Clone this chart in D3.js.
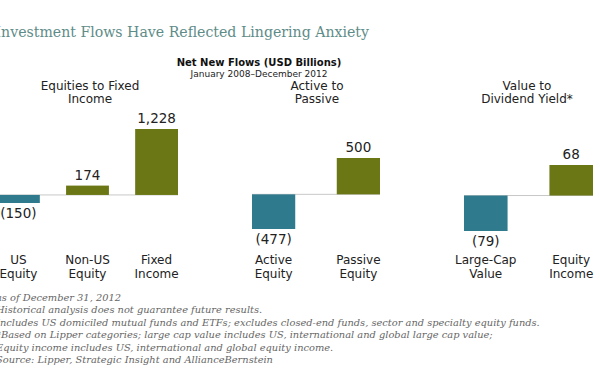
<!DOCTYPE html>
<html>
<head>
<meta charset="utf-8">
<script src="https://cdn.jsdelivr.net/npm/d3@7"></script>
<style>
  body { margin: 0; background: #fff; }
  svg { display: block; }
</style>
</head>
<body>
<svg id="chart" width="600" height="390"></svg>
<script>
// data (USD billions)
var panelTitles = [["Equities to Fixed", "Income"], ["Active to", "Passive"], ["Value to", "Dividend Yield*"]];
var eqCategories = [["US", "Equity"], ["Non-US", "Equity"], ["Fixed", "Income"]];
var eqValues = [-150, 174, 1228];
var apCategories = [["Active", "Equity"], ["Passive", "Equity"]];
var apValues = [-477, 500];
var dyCategories = [["Large-Cap", "Value"], ["Equity", "Income"]];
var dyValues = [-79, 68];
var footnotes = [
    "as of December 31, 2012",
    "Historical analysis does not guarantee future results.",
    "Includes US domiciled mutual funds and ETFs; excludes closed-end funds, sector and specialty equity funds.",
    "*Based on Lipper categories; large cap value includes US, international and global large cap value;",
    "Equity income includes US, international and global equity income.",
    "Source: Lipper, Strategic Insight and AllianceBernstein"
];

var teal = "#2f7b8d";
var olive = "#6b7614";
var sans = "'DejaVu Sans', Verdana, sans-serif";
var serif = "'DejaVu Serif', Georgia, serif";

var svg = d3.select("#chart");

/* main title, clipped on the left like the source image */
var title = svg.append("text")
    .attr("x", 369).attr("y", 37)
    .attr("text-anchor", "end")
    .style("font-family", serif)
    .style("font-size", "17px")
    .attr("fill", "#5e8c88")
    .text("Investment Flows Have Reflected Lingering Anxiety");
// fit so the part after the cut "I" spans ~368px
var full = title.node().getComputedTextLength();
var probe = svg.append("text").style("font-family", serif).style("font-size", "17px").text("I");
var iw = probe.node().getComputedTextLength();
probe.remove();
title.style("font-size", (17 * 368 / (full - iw)).toFixed(2) + "px");

svg.append("text")
    .attr("x", 259).attr("y", 66)
    .attr("text-anchor", "middle")
    .style("font-family", sans)
    .style("font-weight", "bold")
    .style("font-size", "10px")
    .attr("fill", "#111")
    .text("Net New Flows (USD Billions)");
svg.append("text")
    .attr("x", 259).attr("y", 77)
    .attr("text-anchor", "middle")
    .style("font-family", sans)
    .style("font-size", "9px")
    .attr("fill", "#222")
    .text("January 2008\u2013December 2012");

// one little bar chart per panel, each with its own scale
var panels = [
    {cats: eqCategories, vals: eqValues, xr: [-3, 178], pad: 0.38, yr: [203, 129], tx: 90},
    {cats: apCategories, vals: apValues, xr: [252, 380], pad: 0.49, yr: [229, 158], tx: 317},
    {cats: dyCategories, vals: dyValues, xr: [464, 593], pad: 0.49, yr: [231, 165], tx: 527}
];

function fmt(v) {
    var s = d3.format(",")(Math.abs(v));
    return v < 0 ? "(" + s + ")" : s;
}

panels.forEach(function(p, i) {
    var g = svg.append("g");
    var keys = p.cats.map(c => c.join(" "));
    var x = d3.scaleBand().domain(keys).range(p.xr).paddingInner(p.pad).paddingOuter(0);
    var y = d3.scaleLinear().domain([d3.min(p.vals), d3.max(p.vals)]).range(p.yr);
    var data = keys.map((k, j) => ({key: k, lines: p.cats[j], value: p.vals[j]}));

    // title, two lines
    g.selectAll("text.ttl")
        .data(panelTitles[i])
        .join("text")
        .attr("class", "ttl")
        .attr("x", p.tx)
        .attr("y", (d, j) => 90 + j * 13)
        .attr("text-anchor", "middle")
        .style("font-family", sans)
        .style("font-size", "12px")
        .attr("fill", "#222")
        .text(d => d);

    // zero line
    g.append("line")
        .attr("x1", p.xr[0]).attr("x2", p.xr[1])
        .attr("y1", y(0)).attr("y2", y(0))
        .attr("stroke", "#c8c8c8")
        .attr("stroke-width", 1);

    g.selectAll("rect")
        .data(data)
        .join("rect")
        .attr("x", d => x(d.key))
        .attr("width", x.bandwidth())
        .attr("y", d => Math.min(y(0), y(d.value)))
        .attr("height", d => Math.abs(y(d.value) - y(0)))
        .attr("fill", d => d.value < 0 ? teal : olive);

    g.selectAll("text.val")
        .data(data)
        .join("text")
        .attr("class", "val")
        .attr("x", d => x(d.key) + x.bandwidth() / 2)
        .attr("y", d => d.value < 0 ? y(d.value) + 15 : y(d.value) - 6)
        .attr("text-anchor", "middle")
        .style("font-family", sans)
        .style("font-size", "13.5px")
        .attr("fill", "#222")
        .text(d => fmt(d.value));

    // category labels, one text per line
    var lines = [];
    data.forEach(d => d.lines.forEach((l, j) => lines.push({l: l, j: j, cx: x(d.key) + x.bandwidth() / 2})));
    g.selectAll("text.cat")
        .data(lines)
        .join("text")
        .attr("class", "cat")
        .attr("x", d => d.cx)
        .attr("y", d => 264 + d.j * 13.5)
        .attr("text-anchor", "middle")
        .style("font-family", sans)
        .style("font-size", "12px")
        .attr("fill", "#222")
        .text(d => d.l);
});

/* footnotes */
var notes = svg.append("g")
    .selectAll("text")
    .data(footnotes)
    .join("text")
    .attr("x", -4)
    .attr("y", (d, i) => 301 + i * 12.4)
    .style("font-family", serif)
    .style("font-style", "italic")
    .style("font-size", "10px")
    .attr("fill", "#666")
    .text(d => d);
// the source line ends near x=273 in the picture
var srcW = notes.filter((d, i) => i === 5).node().getComputedTextLength();
notes.style("font-size", (10 * 277 / srcW).toFixed(2) + "px");
</script>
</body>
</html>
